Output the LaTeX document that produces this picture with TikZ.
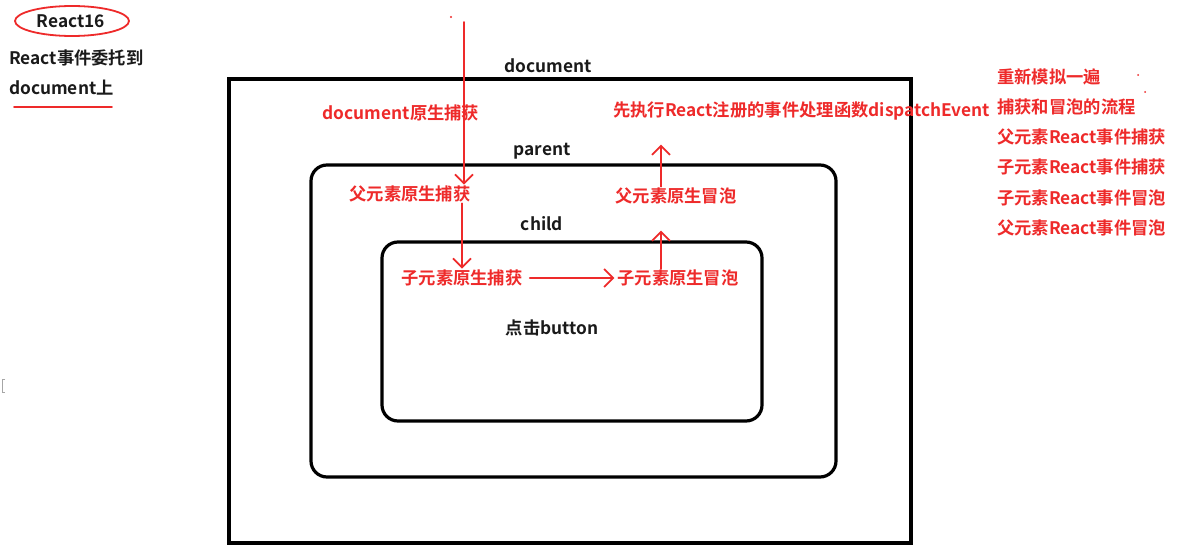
\documentclass[tikz,border=0pt]{standalone}
\usepackage{fontspec}
\setmainfont{Noto Sans CJK SC}[BoldFont={Noto Sans CJK SC Bold}]
\usetikzlibrary{arrows.meta,calc}
\definecolor{pen}{HTML}{EE2A2A}
\definecolor{ink}{HTML}{1A1A1A}
\begin{document}
\begin{tikzpicture}[x=1pt,y=-1pt,
  lbl/.style={font=\bfseries\fontsize{17.3}{20}\selectfont, inner sep=1pt},
  redtxt/.style={lbl,text=pen},
  blk/.style={lbl,text=ink},
  frame/.style={draw=black, line width=3.2pt},
  penline/.style={draw=pen, line width=1.7pt, line cap=round, line join=round},
  tip/.style={-{Straight Barb[length=9pt,width=18pt,line width=1.7pt]}}
]
\useasboundingbox (0,0) rectangle (1196,553);
\fill[white] (0,0) rectangle (1196,553);

% frames
\draw[frame] (229,79) rectangle (911,543);
\draw[frame, rounded corners=16pt] (311,165) rectangle (836,477);
\draw[frame, rounded corners=16pt] (382,242) rectangle (762,421);

% black labels
\node[blk] (ldoc) at (548,66) {document};
\node[blk] (lpar) at (542,151) {parent};
\node[blk] (lchi) at (542,224) {child};
\node[blk] (lbtn) at (552,328) {点击button};

% top-left notes
\node[blk] (r16) at (71,21) {React16};
\draw[penline, line width=1.8pt] (72,21) ellipse [x radius=57, y radius=15];
\node[blk, anchor=west] (n1) at (8,58) {React事件委托到};
\node[blk, anchor=west] (n2) at (8,88) {document上};
\draw[penline, line width=1.6pt] (14,107) -- (112,107);

% red labels
\node[redtxt] (dcap) at (401,113) {document原生捕获};
\node[redtxt, anchor=west] (exec) at (612,111) {先执行React注册的事件处理函数dispatchEvent};
\node[redtxt] (pcap) at (410,194) {父元素原生捕获};
\node[redtxt] (pbub) at (676,196) {父元素原生冒泡};
\node[redtxt] (ccap) at (462,278) {子元素原生捕获};
\node[redtxt] (cbub) at (678,278) {子元素原生冒泡};

% right list
\node[redtxt, anchor=west] (s1) at (996,77) {重新模拟一遍};
\node[redtxt, anchor=west] (s2) at (996,107) {捕获和冒泡的流程};
\node[redtxt, anchor=west] (s3) at (996,137) {父元素React事件捕获};
\node[redtxt, anchor=west] (s4) at (996,167) {子元素React事件捕获};
\node[redtxt, anchor=west] (s5) at (996,198) {子元素React事件冒泡};
\node[redtxt, anchor=west] (s6) at (996,228) {父元素React事件冒泡};

% red arrows
\coordinate (top) at (464,22);
\draw[penline, tip] (top) -- (top |- pcap.north);
\draw[penline, tip] (pcap.south -| ccap.north) -- (ccap.north);
\draw[penline, tip] ($(ccap.east)+(6,0)$) -- ($(cbub.west)+(-2,0)$);
\draw[penline, tip] ($(cbub.north)+(-17,0)$) -- ++(0,-38);
\draw[penline, tip] ($(pbub.north)+(-15,0)$) -- ++(0,-42);

% specks
\fill[pen] (451,17) circle (1.2);
\fill[pen] (1138,75) circle (1);
\fill[pen] (1145,92) circle (1);
\draw[gray!70, line width=0.8pt] (5,379) -- (2,379) -- (2,392) -- (5,392);
\end{tikzpicture}
\end{document}
